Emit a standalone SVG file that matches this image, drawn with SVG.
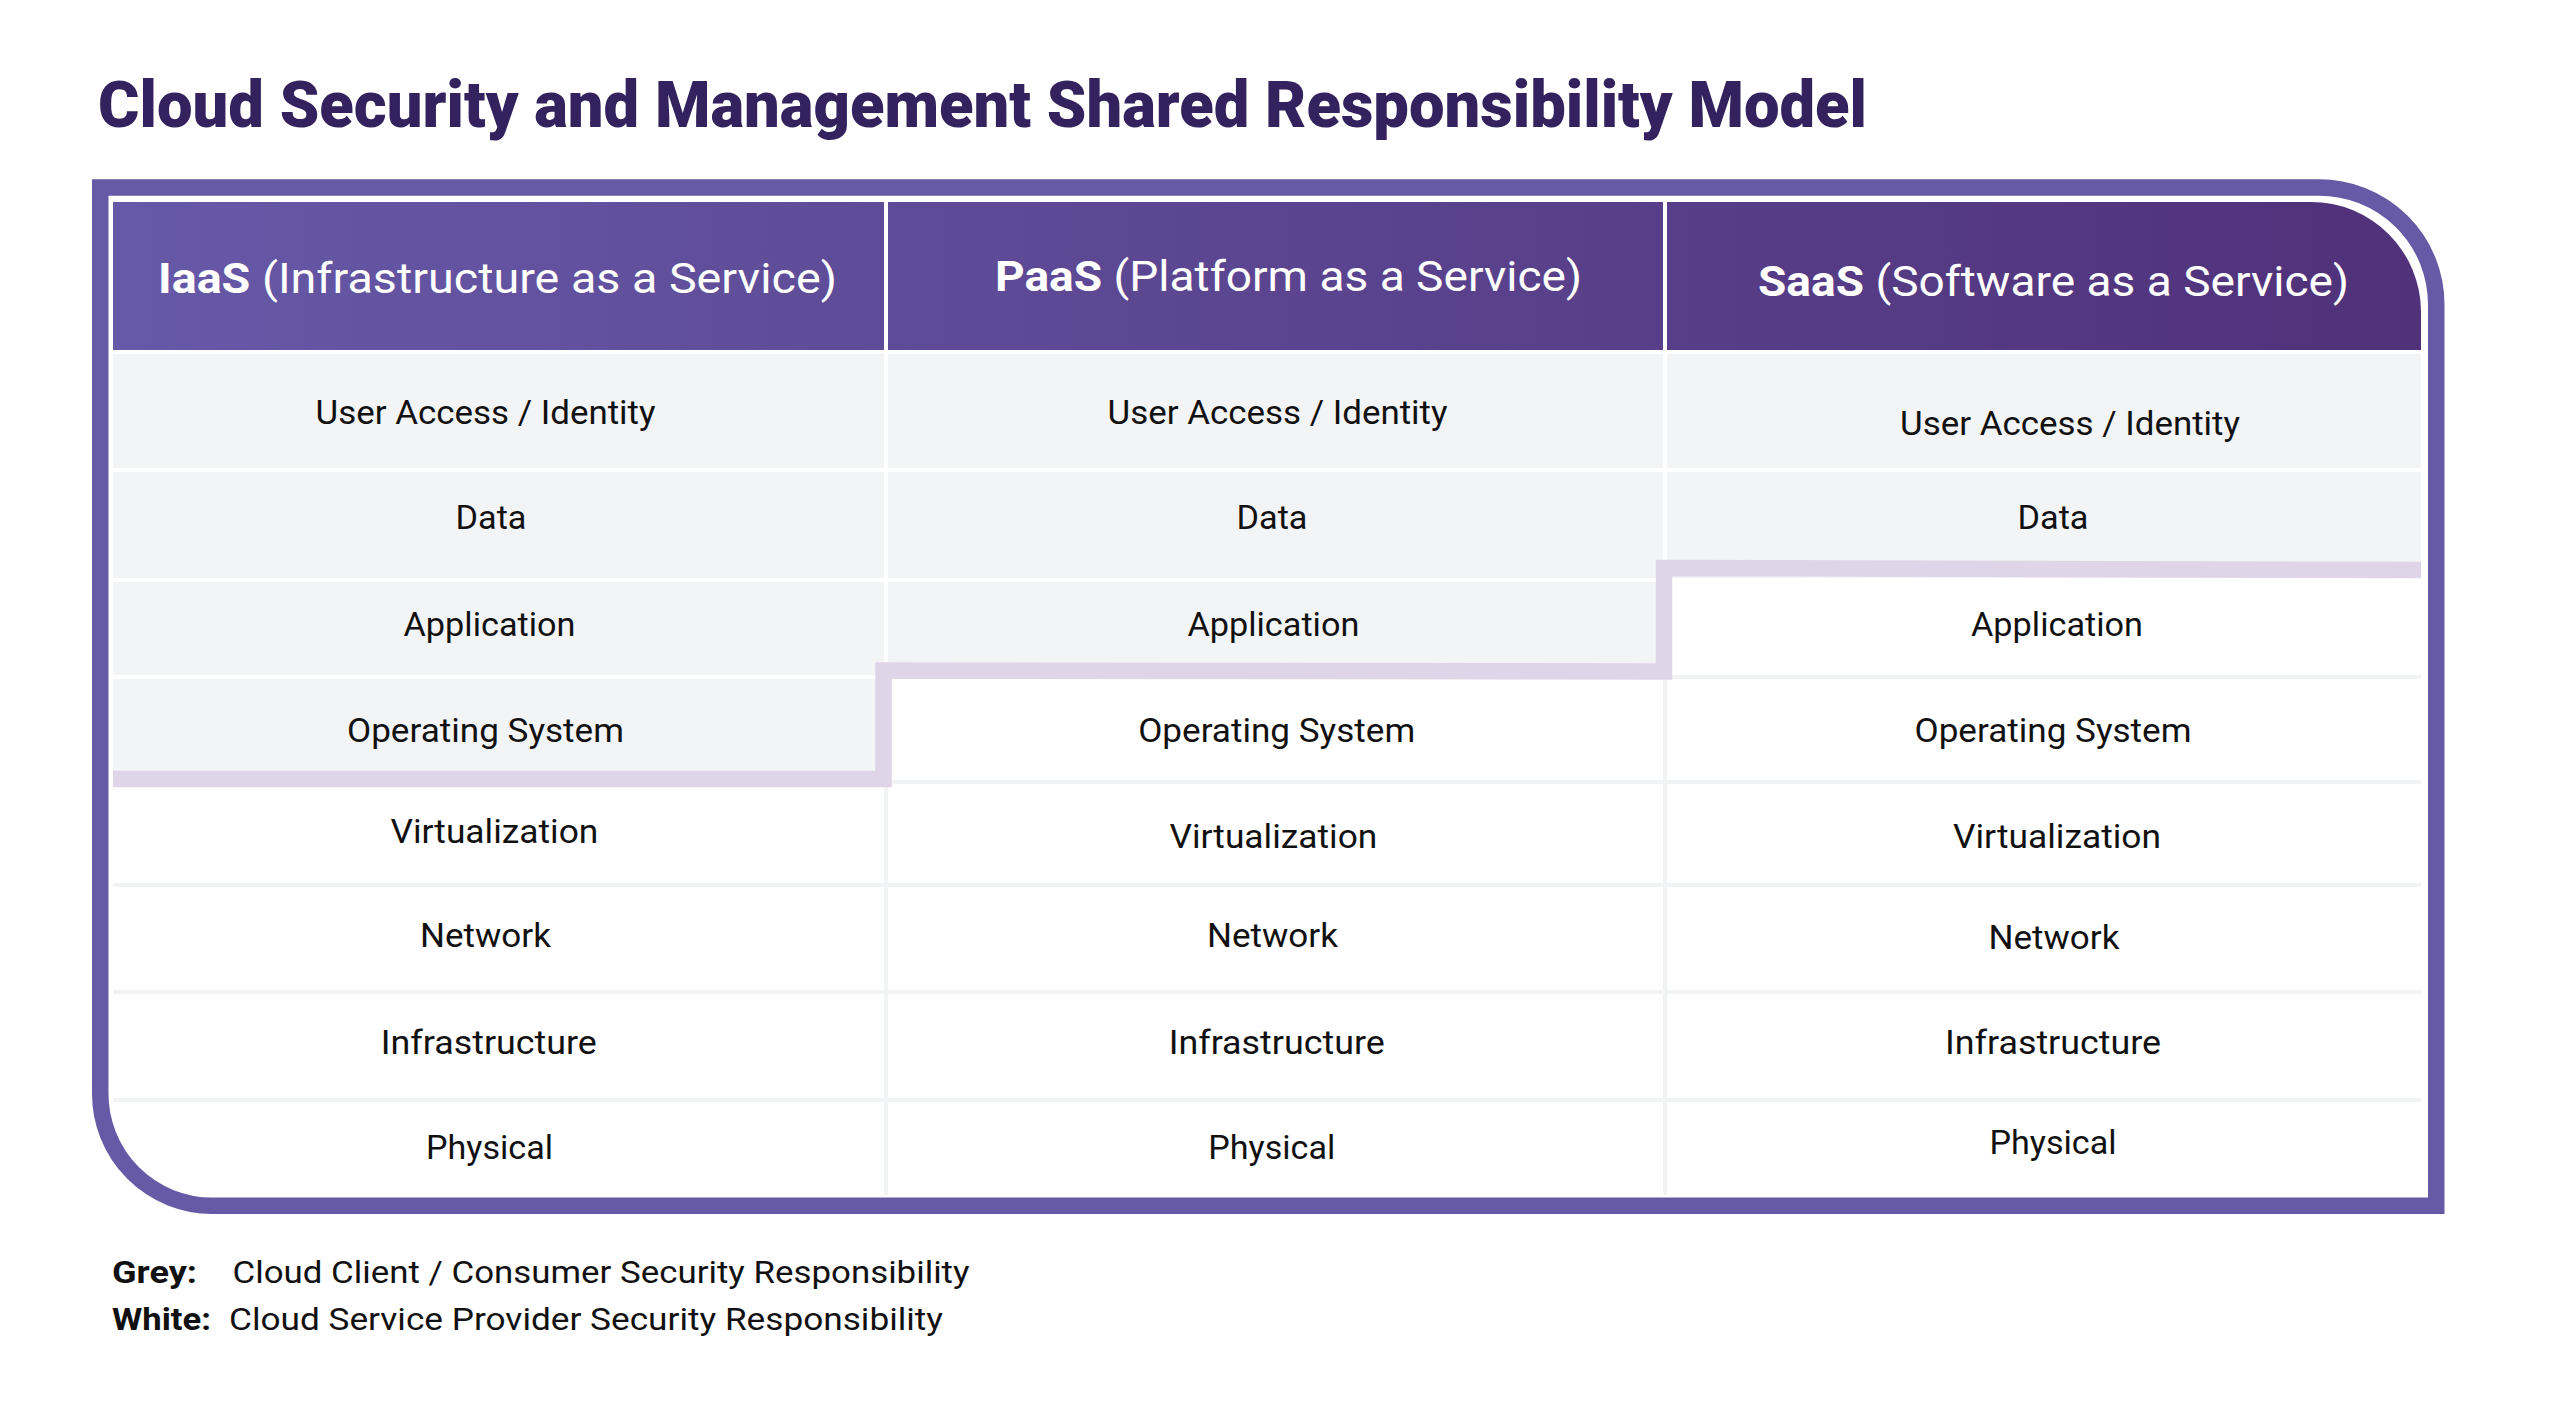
<svg xmlns="http://www.w3.org/2000/svg" width="2550" height="1418" viewBox="0 0 2550 1418">
  <defs>
    <linearGradient id="hdr" gradientUnits="userSpaceOnUse" x1="113" y1="0" x2="2421" y2="0">
      <stop offset="0" stop-color="#6659A7"/>
      <stop offset="1" stop-color="#50317A"/>
    </linearGradient>
    <style>
      .title { font-family: Roboto, "Liberation Sans", sans-serif; font-weight: 900; font-size: 64px; fill: #33225E; }
      .hdr-bg { fill: url(#hdr); }
      .hdr-txt { font-family: Roboto, "Liberation Sans", sans-serif; font-size: 43px; fill: #FFFFFF; }
      .b { font-weight: 700; }
      .grey { fill: #F3F4F6; }
      .sep { fill: #F2F3F5; }
      .cell { font-family: Roboto, "Liberation Sans", sans-serif; font-size: 34px; fill: #111111; text-anchor: middle; }
      .legend { font-family: Roboto, "Liberation Sans", sans-serif; font-size: 31px; fill: #111111; }
      .frame { fill: none; stroke: #6659A6; stroke-width: 16.5; }
      .boundary { fill: none; stroke: #E0D4E9; stroke-width: 16.5; stroke-linejoin: miter; stroke-linecap: butt; }
    </style>
  </defs>

  <rect x="0" y="0" width="2550" height="1418" fill="#FFFFFF"/>

  <g id="title">
    <text class="title" x="98" y="127" textLength="1769" lengthAdjust="spacingAndGlyphs">Cloud Security and Management Shared Responsibility Model</text>
  </g>

  <!-- table background -->
  <rect x="108" y="196" width="2320" height="1001" fill="#FFFFFF"/>

  <!-- header cells -->
  <g id="header-iaas">
    <rect class="hdr-bg" x="113" y="202" width="771" height="148"/>
    <text class="hdr-txt" x="158" y="293" textLength="679" lengthAdjust="spacingAndGlyphs"><tspan class="b">IaaS</tspan> (Infrastructure as a Service)</text>
  </g>
  <g id="header-paas">
    <rect class="hdr-bg" x="888" y="202" width="775" height="148"/>
    <text class="hdr-txt" x="995" y="291" textLength="587" lengthAdjust="spacingAndGlyphs"><tspan class="b">PaaS</tspan> (Platform as a Service)</text>
  </g>
  <g id="header-saas">
    <path class="hdr-bg" d="M1667,202 H2311 A110,110 0 0 1 2421,312 V350 H1667 Z"/>
    <text class="hdr-txt" x="1758" y="296" textLength="591" lengthAdjust="spacingAndGlyphs"><tspan class="b">SaaS</tspan> (Software as a Service)</text>
  </g>

  <!-- grey (consumer) cells -->
  <g id="grey-cells">
    <rect class="grey" x="113" y="354" width="771" height="114"/>
    <rect class="grey" x="113" y="472" width="771" height="106"/>
    <rect class="grey" x="113" y="582" width="771" height="93"/>
    <rect class="grey" x="113" y="679" width="771" height="101"/>
    <rect class="grey" x="888" y="354" width="775" height="114"/>
    <rect class="grey" x="888" y="472" width="775" height="106"/>
    <rect class="grey" x="888" y="582" width="775" height="93"/>
    <rect class="grey" x="1667" y="354" width="754" height="114"/>
    <rect class="grey" x="1667" y="472" width="754" height="106"/>
  </g>

  <!-- separators in white (provider) region -->
  <g id="separators">
    <rect class="sep" x="1667" y="675" width="754" height="4"/>
    <rect class="sep" x="888" y="780" width="1533" height="4"/>
    <rect class="sep" x="113" y="883" width="2308" height="4"/>
    <rect class="sep" x="113" y="990" width="2308" height="4"/>
    <rect class="sep" x="113" y="1098" width="2308" height="4"/>
    <rect class="sep" x="884" y="787" width="4" height="408"/>
    <rect class="sep" x="1663" y="679" width="4" height="516"/>
  </g>

  <!-- IaaS column -->
  <g id="iaas-cells">
    <text class="cell" x="485.5" y="424" textLength="340" lengthAdjust="spacingAndGlyphs">User Access / Identity</text>
    <text class="cell" x="491" y="529" textLength="71" lengthAdjust="spacingAndGlyphs">Data</text>
    <text class="cell" x="489.5" y="636" textLength="172" lengthAdjust="spacingAndGlyphs">Application</text>
    <text class="cell" x="485.5" y="742" textLength="277" lengthAdjust="spacingAndGlyphs">Operating System</text>
    <text class="cell" x="494.4" y="843" textLength="208" lengthAdjust="spacingAndGlyphs">Virtualization</text>
    <text class="cell" x="485.5" y="947" textLength="131" lengthAdjust="spacingAndGlyphs">Network</text>
    <text class="cell" x="488.8" y="1054" textLength="216" lengthAdjust="spacingAndGlyphs">Infrastructure</text>
    <text class="cell" x="489.5" y="1159" textLength="127" lengthAdjust="spacingAndGlyphs">Physical</text>
  </g>

  <!-- PaaS column -->
  <g id="paas-cells">
    <text class="cell" x="1277.5" y="424" textLength="340" lengthAdjust="spacingAndGlyphs">User Access / Identity</text>
    <text class="cell" x="1272" y="529" textLength="71" lengthAdjust="spacingAndGlyphs">Data</text>
    <text class="cell" x="1273.4" y="636" textLength="172" lengthAdjust="spacingAndGlyphs">Application</text>
    <text class="cell" x="1276.7" y="742" textLength="277" lengthAdjust="spacingAndGlyphs">Operating System</text>
    <text class="cell" x="1273.4" y="848" textLength="208" lengthAdjust="spacingAndGlyphs">Virtualization</text>
    <text class="cell" x="1272.5" y="947" textLength="131" lengthAdjust="spacingAndGlyphs">Network</text>
    <text class="cell" x="1276.7" y="1054" textLength="216" lengthAdjust="spacingAndGlyphs">Infrastructure</text>
    <text class="cell" x="1271.8" y="1159" textLength="127" lengthAdjust="spacingAndGlyphs">Physical</text>
  </g>

  <!-- SaaS column -->
  <g id="saas-cells">
    <text class="cell" x="2070" y="435" textLength="340" lengthAdjust="spacingAndGlyphs">User Access / Identity</text>
    <text class="cell" x="2053" y="529" textLength="71" lengthAdjust="spacingAndGlyphs">Data</text>
    <text class="cell" x="2057" y="636" textLength="172" lengthAdjust="spacingAndGlyphs">Application</text>
    <text class="cell" x="2053" y="742" textLength="277" lengthAdjust="spacingAndGlyphs">Operating System</text>
    <text class="cell" x="2057" y="848" textLength="208" lengthAdjust="spacingAndGlyphs">Virtualization</text>
    <text class="cell" x="2054" y="949" textLength="131" lengthAdjust="spacingAndGlyphs">Network</text>
    <text class="cell" x="2053" y="1054" textLength="216" lengthAdjust="spacingAndGlyphs">Infrastructure</text>
    <text class="cell" x="2053" y="1154" textLength="127" lengthAdjust="spacingAndGlyphs">Physical</text>
  </g>

  <!-- responsibility boundary (step line) -->
  <g id="connectors">
    <path class="boundary" d="M113,779 L883.5,779 L883.5,670.5 L1664,671.5 L1664,568 L2421,570"/>
  </g>

  <!-- outer frame -->
  <g id="frame">
    <path class="frame" d="M100.25,187.5 H2319 A117,117 0 0 1 2436.25,304.5 V1205.75 H212 A112,112 0 0 1 100.25,1093.5 Z"/>
  </g>

  <!-- legend -->
  <g id="legend">
    <text class="legend b" x="112" y="1283" textLength="85" lengthAdjust="spacingAndGlyphs">Grey:</text>
    <text class="legend" x="232.5" y="1283" textLength="737" lengthAdjust="spacingAndGlyphs">Cloud Client / Consumer Security Responsibility</text>
    <text class="legend b" x="112" y="1330" textLength="99" lengthAdjust="spacingAndGlyphs">White:</text>
    <text class="legend" x="229" y="1330" textLength="714" lengthAdjust="spacingAndGlyphs">Cloud Service Provider Security Responsibility</text>
  </g>
</svg>
